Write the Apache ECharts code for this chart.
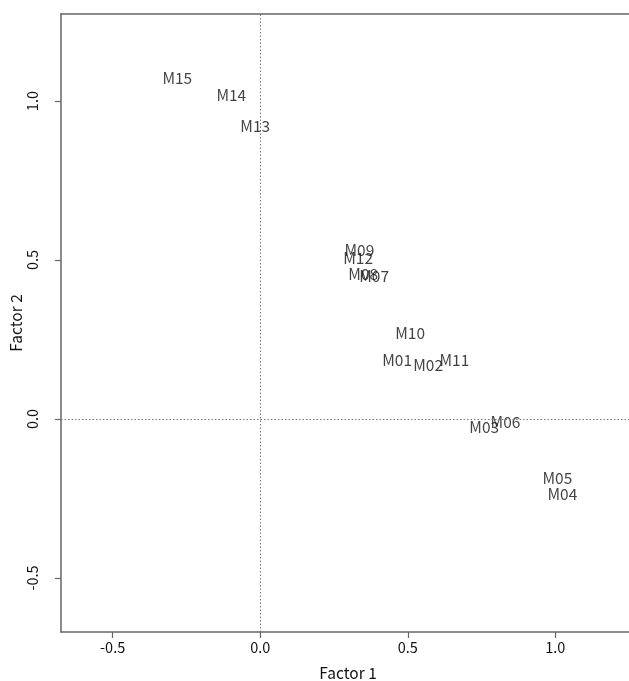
<!DOCTYPE html>
<html>
<head>
<meta charset="utf-8">
<script src="https://cdn.jsdelivr.net/npm/echarts@6/dist/echarts.min.js"></script>
<style>html,body{margin:0;padding:0;background:#fff;overflow:hidden;}#c{width:640px;height:681px;}</style>
</head>
<body>
<div id="c"></div>
<script>
const names = ['M01','M02','M03','M04','M05','M06','M07','M08','M09','M10','M11','M12','M13','M14','M15'];
const factor1 = [0.464, 0.569, 0.759, 1.024, 1.007, 0.831, 0.386, 0.349, 0.336, 0.508, 0.658, 0.332, -0.017, -0.098, -0.281];
const factor2 = [0.186, 0.170, -0.025, -0.236, -0.186, -0.009, 0.450, 0.455, 0.531, 0.270, 0.186, 0.506, 0.921, 1.019, 1.072];
const tickValues = [-0.5, 0.0, 0.5, 1.0];

const FONT = '"Noto Sans CJK JP", "Noto Sans", sans-serif';
const data = names.map((n, i) => [factor1[i], factor2[i], n]);
const frame = {show: true, onZero: false, lineStyle: {color: '#666', width: 1.5}};

const chart = echarts.init(document.getElementById('c'), null, {renderer: 'canvas'});
chart.setOption({
  backgroundColor: '#fff',
  animation: false,
  grid: {left: 61, top: 14, right: 5, bottom: 49, containLabel: false, outerBoundsMode: 'none', show: false},
  xAxis: [{
    type: 'value', min: -0.675, max: 1.27, position: 'bottom',
    name: 'Factor 1', nameLocation: 'middle', nameGap: 33,
    nameTextStyle: {fontFamily: FONT, fontSize: 15.5, color: '#111'},
    axisLine: frame,
    axisTick: {show: true, length: 6, lineStyle: {color: '#666', width: 1.2}, customValues: tickValues},
    axisLabel: {fontFamily: FONT, fontSize: 14.5, color: '#111', margin: 8, customValues: tickValues,
                formatter: v => v.toFixed(1)},
    splitLine: {show: false}
  }, {
    type: 'value', min: -0.675, max: 1.27, position: 'top',
    axisLine: frame, axisTick: {show: false}, axisLabel: {show: false}, splitLine: {show: false}
  }],
  yAxis: {
    type: 'value', min: -0.67, max: 1.274,
    name: 'Factor 2', nameLocation: 'middle', nameGap: 37, nameMoveOverlap: false,
    nameTextStyle: {fontFamily: FONT, fontSize: 15.5, color: '#111'},
    axisLine: frame,
    axisTick: {show: true, length: 6, lineStyle: {color: '#666', width: 1.2}, customValues: tickValues},
    axisLabel: {fontFamily: FONT, fontSize: 14.5, color: '#111', margin: 21, rotate: 90, customValues: tickValues,
                formatter: v => v.toFixed(1)},
    splitLine: {show: false}
  },
  series: [{
    type: 'scatter',
    data: data,
    symbolSize: 1,
    itemStyle: {color: 'rgba(0,0,0,0)'},
    label: {show: true, position: 'inside', formatter: p => p.data[2],
            fontFamily: FONT, fontSize: 15.5, color: '#111'},
    labelLayout: {hideOverlap: false},
    markLine: {
      silent: true, symbol: 'none', label: {show: false},
      lineStyle: {type: [1.5, 2], color: '#777', width: 1},
      data: [{xAxis: 0}, {yAxis: 0}]
    }
  }]
});
</script>
</body>
</html>
